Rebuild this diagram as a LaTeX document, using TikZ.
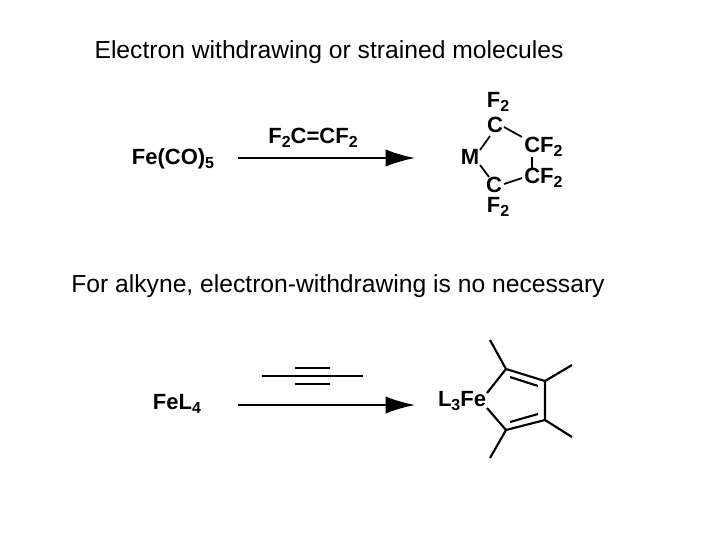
\documentclass[tikz,border=0pt]{standalone}
\usepackage{fontspec}
\setmainfont{Liberation Sans}
\newcommand{\sbs}[1]{\raisebox{-0.35ex}{\fontsize{12}{12}\selectfont #1}}
\begin{document}
\begin{tikzpicture}[x=0.75pt,y=-0.75pt,
  chem/.style={font=\bfseries\fontsize{16.5}{17}\selectfont,inner sep=0pt},
  title/.style={font=\fontsize{18.5}{19}\selectfont,inner sep=0pt},
  bond/.style={line width=1.6pt},
  rxn/.style={line width=1.6pt,-{Latex[length=22pt,width=13pt]}}]
\usetikzlibrary{arrows.meta}
\useasboundingbox (0,0) rectangle (720,540);
\node[title] (t1) at (329,52) {Electron withdrawing or strained molecules};
\node[chem] (fe) at (173,159) {Fe(CO)\sbs{5}};
\coordinate (a1s) at (238,158); \coordinate (a1e) at (415,158);
\draw[rxn] (a1s) -- (a1e);
\node[chem] (r1) at (313,138) {F\sbs{2}C=CF\sbs{2}};
\node[chem] (f2t) at (498,102) {F\sbs{2}};
\node[chem] (ct) at (495,125) {C};
\node[chem,anchor=west] (cf1) at (524,147) {CF\sbs{2}};
\node[chem,anchor=west] (cf2) at (524,178) {CF\sbs{2}};
\node[chem] (cb) at (494,185) {C};
\node[chem] (f2b) at (498,207) {F\sbs{2}};
\node[chem] (m) at (470,157) {M};
\draw[line width=1.3pt] (480,150)--(490,136) (504,127)--(522,137) (532,157)--(532,168) (504,184)--(522,178) (480,165)--(489,177);
\node[title] (t2) at (338,286) {For alkyne, electron-withdrawing is no necessary};
\node[chem] (fel) at (177,404) {FeL\sbs{4}};
\coordinate (a2s) at (238,405); \coordinate (a2e) at (415,405);
\draw[rxn] (a2s) -- (a2e);
\draw[bond] (262,376)--(363,376) (295,368)--(330,368) (295,384)--(330,384);
\node[chem] (l3fe) at (462,401) {L\sbs{3}Fe};
\coordinate (b1) at (506,369); \coordinate (b2) at (545,381);
\coordinate (b3) at (545,420); \coordinate (b4) at (506,430);
\draw[bond] (487,393)--(b1)--(b2)--(b3)--(b4)--(487,408);
\draw[bond] (510,377)--(538,386) (510,422)--(538,414);
\draw[bond] (b1)--(490,340) (b2)--(572,365) (b3)--(572,437) (b4)--(490,458);
\end{tikzpicture}
\end{document}
